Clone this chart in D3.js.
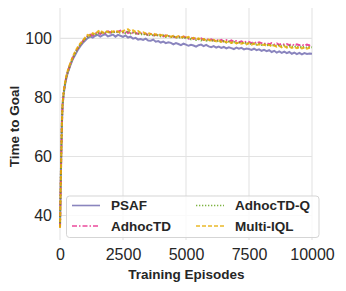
<!DOCTYPE html>
<html>
<head>
<meta charset="utf-8">
<script src="https://cdn.jsdelivr.net/npm/d3@7"></script>
<style>
  body { margin: 0; background: #fff; }
  svg { display: block; font-family: "Liberation Sans", Arial, sans-serif; }
</style>
</head>
<body>
<svg id="chart" width="346" height="291"></svg>
<script>
var episodes = [0,25,50,75,100,150,200,250,300,
  400,500,600,700,800,900,1000,
  1100,1200,1300,1400,1500,1600,1700,1800,1900,2000,
  2100,2200,2300,2400,2500,2600,2700,2800,2900,3000,
  3100,3200,3300,3400,3500,3600,3700,3800,3900,4000,
  4100,4200,4300,4400,4500,4600,4700,4800,4900,5000,
  5100,5200,5300,5400,5500,5600,5700,5800,5900,6000,
  6100,6200,6300,6400,6500,6600,6700,6800,6900,7000,
  7100,7200,7300,7400,7500,7600,7700,7800,7900,8000,
  8100,8200,8300,8400,8500,8600,8700,8800,8900,9000,
  9100,9200,9300,9400,9500,9600,9700,9800,9900,10000];

var psaf = [36.2,49,61,71,77,81.5,84.3,86.4,88.1,
  90.6,92.8,94.4,96.0,97.3,98.4,99.3,
  100.1,100.6,100.3,100.9,101.2,100.6,101.1,101.4,100.7,101.0,
  101.3,100.6,101.2,100.9,100.5,101.0,100.3,100.6,99.9,100.2,
  99.6,99.8,99.5,99.9,99.3,99.2,99.6,98.9,99.1,98.6,
  98.9,98.4,98.7,98.5,98.0,98.4,98.1,97.7,98.2,97.9,
  97.5,97.8,97.6,97.2,97.7,97.9,97.4,97.8,97.3,97.0,
  97.4,96.9,97.2,96.8,97.1,96.6,97.0,96.7,96.4,96.9,
  96.5,96.8,96.3,96.6,96.4,96.1,96.5,96.0,96.3,95.8,
  96.1,95.7,96.0,95.4,95.8,95.2,95.6,95.1,95.5,95.0,
  95.4,94.8,95.2,94.7,95.1,94.6,95.0,94.7,94.9,94.8];

var adhocTD = [36.0,48,60,70.5,77.5,82,84.8,86.9,88.6,
  91.2,93.3,95.2,96.6,97.9,99.0,100.0,
  100.8,101.3,101.0,101.7,102.0,101.5,102.2,101.8,102.4,102.0,
  102.5,101.9,102.3,102.6,102.0,102.4,101.8,102.3,101.6,101.9,
  101.5,101.9,101.3,101.6,101.1,101.5,101.0,101.3,100.8,101.2,
  100.7,101.0,100.5,100.9,100.6,100.3,100.7,100.2,100.6,100.3,
  99.9,100.3,99.8,100.1,99.7,100.0,99.5,99.9,99.4,99.7,
  99.3,99.6,99.1,99.5,99.0,99.4,98.9,99.3,98.8,99.1,
  98.7,99.0,98.6,98.9,98.8,98.4,98.8,98.3,98.7,98.4,
  98.1,98.5,98.0,98.4,97.9,98.3,97.8,98.2,97.9,98.1,
  97.7,98.1,97.6,98.0,97.7,97.9,97.5,97.9,97.6,97.8];

var adhocTDQ = [36.4,49.5,61.5,71.5,77.2,81.8,84.6,86.7,88.4,
  91.0,93.1,95.0,96.5,97.8,98.8,99.8,
  100.5,101.0,101.4,101.2,101.8,102.1,101.6,102.3,101.9,102.2,
  101.8,102.4,102.1,101.9,102.3,101.8,102.2,101.7,102.0,101.6,
  101.8,101.3,101.6,101.1,101.4,100.9,101.3,100.8,101.1,100.7,
  101.0,100.5,100.8,100.4,100.7,100.2,100.5,100.1,100.4,100.0,
  100.2,99.7,100.0,99.5,99.8,99.3,99.7,99.2,99.5,99.1,
  99.4,98.9,99.2,98.8,99.1,98.6,98.9,98.5,98.8,98.4,
  98.7,98.3,98.6,98.2,98.5,98.0,98.3,97.9,98.2,97.8,
  98.0,97.6,97.9,97.5,97.8,97.4,97.7,97.3,97.6,97.2,
  97.5,97.1,97.4,97.0,97.3,96.9,97.2,96.8,97.1,97.0];

var multiIQL = [35.8,48.5,60.5,71,77.8,82.3,85.0,87.2,88.9,
  91.4,93.6,95.5,97.0,98.2,99.2,100.3,
  101.2,100.9,101.8,101.4,102.3,102.8,101.9,102.5,102.1,102.6,
  102.2,102.7,102.3,101.9,102.5,102.9,103.1,102.4,102.7,102.2,
  102.5,101.9,102.1,101.6,101.9,101.4,101.7,101.2,101.5,101.0,
  101.3,100.8,101.1,100.6,100.9,100.4,100.8,100.3,100.6,100.2,
  100.5,99.9,100.2,99.7,100.0,99.5,99.8,99.3,99.6,99.2,
  99.5,99.0,99.3,98.8,99.1,98.7,99.0,98.5,98.8,98.3,
  98.6,98.2,98.5,98.0,98.3,97.9,98.2,97.7,98.0,97.6,
  97.9,97.5,97.8,97.3,97.6,97.2,97.5,97.0,97.4,96.9,
  97.2,96.8,97.1,96.7,97.0,96.6,96.9,96.5,96.8,96.7];

var seriesNames = ["PSAF", "AdhocTD", "AdhocTD-Q", "Multi-IQL"];
var seriesColors = ["#7570b3", "#e7298a", "#66a61e", "#e6ab02"];
var seriesDash = [null, "5,2,1.5,2", "1.3,1.7", "4,2"];
var seriesValues = [psaf, adhocTD, adhocTDQ, multiIQL];

var xTicks = [0, 2500, 5000, 7500, 10000];
var yTicks = [40, 60, 80, 100];

var svg = d3.select("#chart");
// plot box (note: "top" is reserved on window, so use prefixed names)
var plotLeft = 60, plotRight = 312, plotTop = 8, plotBottom = 240;

var x = d3.scaleLinear().domain([0, 10000]).range([plotLeft, plotRight]);
var y = d3.scaleLinear().domain([31.7, 110.3]).range([plotBottom, plotTop]);

// grid (seaborn whitegrid, no spines)
svg.append("g").selectAll("line").data(xTicks).enter().append("line")
  .attr("x1", function(d){ return x(d); }).attr("x2", function(d){ return x(d); })
  .attr("y1", plotTop).attr("y2", plotBottom)
  .attr("stroke", "#e3e3e3").attr("stroke-width", 1.1);
svg.append("g").selectAll("line").data(yTicks).enter().append("line")
  .attr("x1", plotLeft).attr("x2", plotRight)
  .attr("y1", function(d){ return y(d); }).attr("y2", function(d){ return y(d); })
  .attr("stroke", "#e3e3e3").attr("stroke-width", 1.1);

// tick labels via d3 axes with lines hidden
var xAxis = svg.append("g").attr("transform", "translate(0," + plotBottom + ")")
  .call(d3.axisBottom(x).tickValues(xTicks).tickSize(0).tickPadding(9).tickFormat(d3.format("d")));
var yAxis = svg.append("g").attr("transform", "translate(" + plotLeft + ",0)")
  .call(d3.axisLeft(y).tickValues(yTicks).tickSize(0).tickPadding(8).tickFormat(d3.format("d")));
[xAxis, yAxis].forEach(function(ax){
  ax.select(".domain").remove();
  ax.selectAll("text").attr("font-size", 16).attr("fill", "#262626")
    .attr("font-family", "'Liberation Sans', Arial, sans-serif");
});

// lines
var line = d3.line()
  .x(function(d, i){ return x(episodes[i]); })
  .y(function(d){ return y(d); });

seriesValues.forEach(function(vals, i){
  svg.append("path")
    .datum(vals)
    .attr("d", line)
    .attr("fill", "none")
    .attr("stroke", seriesColors[i])
    .attr("stroke-opacity", 0.85)
    .attr("stroke-width", 2)
    .attr("stroke-dasharray", seriesDash[i]);
});

// axis titles
svg.append("text")
  .attr("x", 186.5).attr("y", 279)
  .attr("text-anchor", "middle")
  .attr("font-size", 13.5).attr("font-weight", "bold").attr("fill", "#262626")
  .text("Training Episodes");
svg.append("text")
  .attr("transform", "translate(19,126.5) rotate(-90)")
  .attr("text-anchor", "middle")
  .attr("font-size", 13.5).attr("font-weight", "bold").attr("fill", "#262626")
  .text("Time to Goal");

// legend, two columns
var legend = svg.append("g");
legend.append("rect")
  .attr("x", 66.5).attr("y", 196).attr("width", 252.5).attr("height", 41.5)
  .attr("rx", 3).attr("fill", "#fff").attr("fill-opacity", 0.8)
  .attr("stroke", "#d5d5d5").attr("stroke-width", 1);

var legX = [72, 72, 196, 196];
var legY = [205.5, 226, 205.5, 226];
[0, 1, 2, 3].forEach(function(s){
  legend.append("line")
    .attr("x1", legX[s]).attr("x2", legX[s] + 28)
    .attr("y1", legY[s]).attr("y2", legY[s])
    .attr("stroke", seriesColors[s]).attr("stroke-opacity", 0.85)
    .attr("stroke-width", 1.6)
    .attr("stroke-dasharray", seriesDash[s]);
  legend.append("text")
    .attr("x", legX[s] + 39).attr("y", legY[s])
    .attr("dy", "0.36em")
    .attr("font-size", 13.5).attr("font-weight", "bold").attr("fill", "#262626")
    .text(seriesNames[s]);
});
</script>
</body>
</html>
